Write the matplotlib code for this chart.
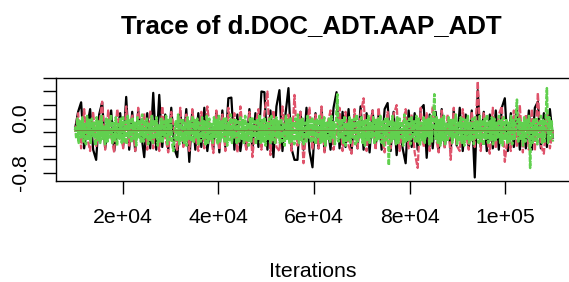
#!/usr/bin/env python3

import matplotlib
matplotlib.use("Agg")
import matplotlib.pyplot as plt
import numpy as np

plt.rcParams['font.family'] = ['Liberation Sans', 'DejaVu Sans']

# iterations kept after burn-in
first_iter = 10001
last_iter = 110000

# chain 1 (black, solid)
chain1 = [-0.15, 0.10, 0.24, -0.44, -0.12, 0.14, -0.46, -0.61, 0.06, 0.24,
          -0.44, -0.10, 0.12, -0.48, -0.20, 0.08, -0.42, 0.32, -0.46, 0.10,
          -0.48, 0.12, -0.22, -0.57, 0.08, -0.44, 0.38, -0.46, 0.35, -0.42,
          0.06, -0.46, 0.16, -0.44, -0.57, 0.10, -0.40, 0.14, -0.64, 0.12,
          -0.46, 0.08, -0.42, 0.16, -0.48, -0.12, -0.44, 0.10, -0.50, 0.12,
          -0.42, 0.30, 0.31, -0.46, 0.06, -0.48, -0.14, -0.44, 0.14, -0.46,
          0.08, -0.42, 0.40, 0.39, -0.46, 0.12, -0.57, 0.18, 0.42, -0.48,
          0.06, 0.45, -0.44, -0.61, -0.61, 0.10, -0.46, 0.16, -0.48, -0.72,
          0.08, -0.44, 0.14, -0.48, -0.10, -0.46, 0.16, 0.39, -0.44, 0.10,
          -0.42, 0.14, -0.48, 0.06, -0.44, 0.18, -0.46, 0.08, -0.50, 0.12,
          -0.42, 0.06, -0.46, 0.14, 0.23, -0.48, 0.10, -0.54, -0.10, -0.44,
          -0.66, 0.12, -0.42, 0.08, -0.46, 0.14, 0.20, -0.58, 0.06, -0.44,
          0.10, -0.49, 0.14, -0.42, -0.06, -0.46, 0.12, -0.40, 0.16, -0.48,
          0.06, -0.44, 0.12, -0.87, 0.42, -0.42, 0.10, -0.48, 0.06, -0.44,
          0.12, -0.46, 0.16, 0.30, -0.48, 0.08, -0.42, 0.14, -0.46, -0.08,
          -0.44, 0.12, -0.46, 0.16, 0.25, -0.44, 0.08, -0.42, 0.14, -0.28]

# chain 2 (red, dashed)
chain2 = [-0.20, 0.08, -0.44, 0.14, -0.28, -0.48, 0.10, -0.42, -0.10, 0.25,
          -0.46, 0.12, -0.26, -0.50, 0.14, -0.14, -0.44, 0.18, -0.40, 0.06,
          -0.48, 0.16, -0.22, 0.08, -0.46, 0.12, -0.44, -0.02, -0.48, 0.18,
          -0.28, -0.50, 0.10, -0.18, -0.46, 0.16, -0.42, 0.06, -0.48, 0.14,
          -0.26, -0.48, 0.10, -0.44, 0.18, -0.20, -0.51, 0.12, -0.46, 0.06,
          -0.48, 0.16, -0.30, 0.08, -0.50, 0.18, -0.24, -0.46, 0.10, -0.57,
          -0.10, 0.14, -0.46, 0.08, 0.40, -0.54, 0.12, -0.42, -0.48, 0.18,
          -0.26, 0.06, -0.48, 0.35, -0.40, 0.10, -0.66, -0.12, 0.16, -0.46,
          0.06, -0.44, 0.18, -0.50, -0.08, 0.12, -0.46, -0.20, 0.16, -0.48,
          0.10, -0.40, -0.52, 0.14, -0.44, 0.06, 0.30, -0.48, -0.10, 0.12,
          -0.46, 0.16, -0.28, -0.50, 0.10, -0.44, 0.06, 0.20, -0.48, -0.10,
          0.14, -0.44, 0.06, -0.50, -0.73, 0.16, -0.42, 0.08, -0.48, 0.18,
          -0.26, -0.50, 0.12, -0.44, 0.06, -0.61, 0.16, -0.40, -0.48, 0.14,
          -0.20, -0.46, 0.10, -0.42, 0.55, -0.48, 0.08, -0.28, -0.52, 0.16,
          -0.44, 0.06, 0.18, -0.64, -0.24, -0.48, 0.12, -0.42, 0.20, -0.50,
          0.06, -0.46, 0.14, -0.48, 0.38, -0.40, -0.52, 0.10, -0.44, -0.18]

# chain 3 (green, dotted) - drawn last, forms the dense band
chain3 = [-0.12, -0.30, 0.00, -0.36, -0.04, -0.28, 0.02, -0.34, -0.08, -0.38,
          0.04, -0.30, -0.02, -0.36, 0.00, -0.26, -0.06, -0.40, 0.02, -0.32,
          -0.04, -0.36, 0.04, -0.30, -0.10, -0.38, 0.00, -0.34, -0.02, -0.28,
          0.06, -0.36, -0.06, -0.32, 0.02, -0.40, -0.08, -0.30, 0.00, -0.36,
          0.02, -0.34, -0.04, -0.38, 0.04, -0.28, -0.02, -0.36, 0.00, -0.32,
          -0.06, -0.40, 0.02, -0.30, -0.04, -0.36, 0.06, -0.34, -0.02, -0.28,
          0.00, -0.38, -0.06, -0.32, 0.04, -0.36, -0.02, -0.30, 0.02, -0.40,
          -0.08, -0.34, 0.00, -0.36, -0.04, -0.28, 0.04, -0.38, -0.02, -0.32,
          0.02, -0.36, -0.48, -0.30, -0.04, -0.34, 0.06, -0.38, -0.02, -0.32,
          0.00, -0.36, -0.06, -0.40, 0.02, -0.30, -0.04, -0.34, 0.04, -0.36,
          -0.02, -0.28, 0.00, -0.38, -0.06, -0.34, 0.02, -0.30, -0.04, -0.40,
          0.04, -0.36, 0.00, -0.32, -0.08, -0.36, 0.02, -0.28, -0.02, -0.38,
          0.04, -0.34, -0.04, -0.30, 0.00, -0.36, 0.02, -0.40, -0.06, -0.32,
          0.06, -0.36, -0.02, -0.28, 0.00, -0.38, -0.04, -0.34, 0.02, -0.30,
          -0.02, -0.36, 0.04, -0.32, -0.06, -0.40, 0.00, -0.34, 0.02, -0.28,
          -0.04, -0.38, 0.00, -0.30, 0.06, -0.36, -0.02, -0.34, 0.02, -0.40,
          -0.06, -0.30, 0.00, -0.36, 0.04, -0.32, -0.02, -0.38, 0.02, -0.28,
          -0.04, -0.36, 0.00, -0.34, -0.08, -0.40, 0.04, -0.30, -0.02, -0.36,
          0.02, -0.34, -0.04, -0.38, 0.00, -0.30, 0.06, -0.36, -0.02, -0.32,
          0.00, -0.40, -0.06, -0.34, 0.04, -0.28, -0.02, -0.36, 0.02, -0.32,
          -0.04, -0.38, 0.00, -0.30, 0.04, -0.36, -0.02, -0.34, 0.02, -0.40,
          -0.06, -0.32, 0.00, -0.36, 0.04, -0.28, -0.04, -0.38, 0.02, 0.36,
          -0.34, -0.02, -0.30, 0.00, -0.36, 0.04, -0.40, -0.06, -0.32, 0.02,
          -0.36, -0.02, -0.28, 0.00, -0.38, 0.06, -0.34, -0.04, -0.30, 0.02,
          -0.36, -0.02, -0.40, 0.00, -0.32, 0.04, -0.36, -0.06, -0.28, 0.02,
          -0.38, -0.02, -0.34, 0.00, -0.30, 0.04, -0.36, -0.04, -0.40, 0.02,
          -0.32, 0.00, -0.69, -0.02, -0.34, 0.04, -0.30, -0.06, -0.38, 0.02,
          -0.36, 0.00, -0.28, -0.04, -0.40, 0.06, -0.34, -0.02, -0.32, 0.00,
          -0.38, 0.02, -0.30, -0.04, -0.36, 0.04, -0.34, 0.00, -0.40, -0.06,
          -0.32, 0.02, -0.36, -0.02, -0.28, 0.00, -0.38, 0.04, -0.34, -0.04,
          0.36, -0.30, 0.02, -0.36, -0.02, -0.40, 0.00, -0.32, 0.04, -0.38,
          -0.06, -0.34, 0.02, -0.28, -0.02, -0.36, 0.00, -0.30, 0.06, -0.38,
          -0.04, -0.34, 0.02, -0.36, 0.00, -0.40, -0.02, -0.30, 0.04, -0.36,
          -0.06, -0.32, 0.00, -0.38, 0.02, -0.28, -0.04, -0.36, 0.04, -0.34,
          -0.02, -0.40, 0.00, -0.30, 0.06, -0.36, -0.04, -0.32, 0.02, -0.38,
          0.00, -0.34, -0.06, -0.28, 0.04, -0.36, -0.02, -0.40, 0.02, -0.30,
          0.00, -0.36, -0.04, -0.34, 0.04, -0.38, -0.02, -0.30, 0.02, 0.28,
          -0.36, 0.00, -0.32, -0.06, -0.40, 0.02, -0.34, -0.02, -0.28, 0.04,
          -0.73, -0.04, -0.36, 0.00, -0.32, 0.02, -0.38, -0.06, -0.30, 0.04,
          -0.36, -0.02, -0.34, 0.00, 0.45, -0.36, 0.02, -0.30, -0.04, -0.34]

xtick_vals = [20000, 40000, 60000, 80000, 100000]
xtick_labels = ["2e+04", "4e+04", "6e+04", "8e+04", "1e+05"]
ytick_vals = [0.6, 0.4, 0.2, 0.0, -0.2, -0.4, -0.6, -0.8]
ytick_labels = ["", "", "", "0.0", "", "", "", "-0.8"]

chains = [chain1, chain2, chain3]
colors = ["#000000", "#DF536B", "#61D04F"]
styles = ["-", (0, (3, 0.8)), (0, (2.0, 0.6))]
widths = [1.6, 1.6, 1.8]

fig = plt.figure(figsize=(5.69, 2.82), dpi=100)
ax = fig.add_axes([56 / 569, 1 - 181.3 / 282, 516 / 569, 103.8 / 282])

for vals, col, ls, lw in zip(chains, colors, styles, widths):
    it = np.linspace(first_iter, last_iter, len(vals))
    ax.plot(it, vals, color=col, linestyle=ls, linewidth=lw)

all_vals = np.concatenate(chains)
# thin olive trace along the middle of the band
ax.plot([first_iter, last_iter], [all_vals.mean()] * 2,
        color="#6f8a3c", linewidth=0.7)

# R style 4% padding
span = last_iter - first_iter
ax.set_xlim(first_iter - 0.04 * span, last_iter + 0.04 * span)
lo, hi = all_vals.min(), all_vals.max()
ax.set_ylim(lo - 0.04 * (hi - lo), hi + 0.04 * (hi - lo))

ax.set_xticks(xtick_vals)
ax.set_xticklabels(xtick_labels)
ax.set_yticks(ytick_vals)
ax.set_yticklabels(ytick_labels, rotation=90, va="center")
ax.tick_params(direction="out", length=9.5, width=1.0, labelsize=15.3,
               color="black")
ax.tick_params(axis="x", pad=10)
ax.tick_params(axis="y", pad=9)
for sp in ax.spines.values():
    sp.set_linewidth(1.0)

fig.text(311 / 569, 1 - 33 / 282, "Trace of d.DOC_ADT.AAP_ADT",
         ha="center", va="baseline", fontsize=18.6, fontweight="bold")
fig.text(313 / 569, 1 - 277 / 282, "Iterations",
         ha="center", va="baseline", fontsize=15.3)

plt.savefig("out.png", dpi=100)
